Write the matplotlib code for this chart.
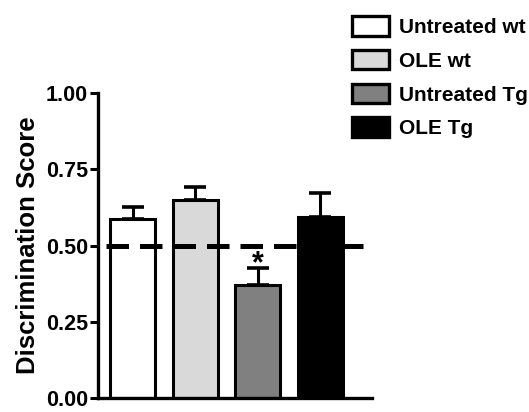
import numpy as np
import matplotlib.pyplot as plt
from matplotlib.patches import Patch

plt.rcParams['font.family'] = ['Liberation Sans', 'DejaVu Sans']
plt.rcParams['font.weight'] = 'bold'

groups = ['Untreated wt', 'OLE wt', 'Untreated Tg', 'OLE Tg']
scores = [0.588, 0.650, 0.372, 0.595]
sem = [0.040, 0.042, 0.053, 0.077]
colors = ['white', '#d9d9d9', '#808080', 'black']
chance = 0.5
yticks = [0.00, 0.25, 0.50, 0.75, 1.00]

fig = plt.figure(figsize=(5.29, 4.12), dpi=100)
ax = fig.add_axes([0.185, 0.034, 0.518, 0.740])

x = np.arange(len(groups))
ax.bar(x, scores, width=0.72, color=colors, edgecolor='black', linewidth=2.2, zorder=2)
ax.errorbar(x, scores, yerr=[np.zeros(len(sem)), sem], fmt='none', ecolor='black',
            elinewidth=2.2, capsize=8, capthick=2.6, zorder=1)
ax.axhline(chance, xmin=0.03, xmax=1.0, color='black', lw=3.6, dashes=(4.5, 2.2), zorder=3)
ax.text(x[2], scores[2] + sem[2] - 0.035, '*', ha='center', va='bottom', fontsize=22)

ax.set_xlim(-0.56, 3.83)
ax.set_ylim(0, 1.0)
ax.set_yticks(yticks)
ax.set_yticklabels([f'{t:.2f}' for t in yticks])
ax.set_xticks([])
ax.tick_params(axis='y', direction='out', length=6, width=2.2, labelsize=15.5, pad=1)
for s in ['top', 'right']:
    ax.spines[s].set_visible(False)
for s in ['left', 'bottom']:
    ax.spines[s].set_linewidth(2.4)
ax.set_ylabel('Discrimination Score', fontsize=18.5, fontweight='bold', labelpad=4)

handles = [Patch(facecolor=c, edgecolor='black', linewidth=2.4) for c in colors]
fig.legend(handles, groups, loc='upper left', bbox_to_anchor=(0.64, 0.993), frameon=False,
           fontsize=15, handlelength=1.75, handleheight=1.05, handletextpad=0.5,
           labelspacing=0.62, borderaxespad=0.25)

fig.savefig('out.png', dpi=100)
